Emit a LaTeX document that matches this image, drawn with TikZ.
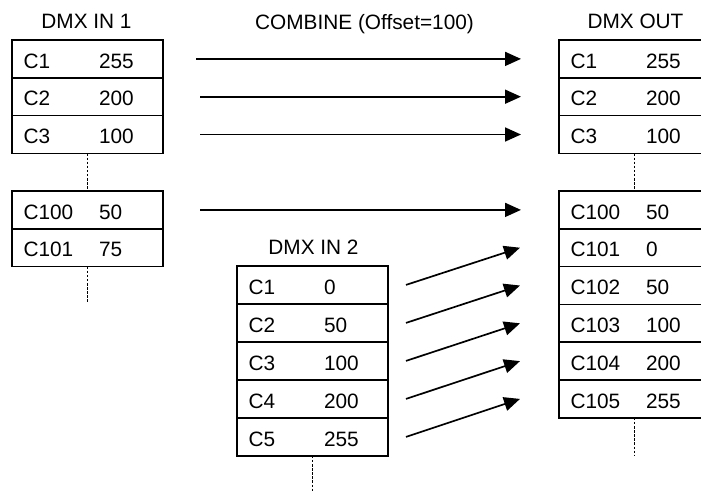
\documentclass[tikz,border=0pt]{standalone}
\usepackage{fontspec}
\setmainfont{Liberation Sans}
\usetikzlibrary{arrows.meta,calc}
\tikzset{
  rowbox/.style={draw=black, line width=1.6pt, minimum width=151pt, minimum height=37.8pt, inner sep=0pt, outer sep=0pt},
  txt/.style={inner sep=0pt, outer sep=0pt, font=\fontsize{20.8}{24}\selectfont},
  ttl/.style={inner sep=0pt, outer sep=0pt, font=\fontsize{20.8}{24}\selectfont, anchor=base},
  arr/.style={line width=1.7pt, -{Triangle[length=16pt,width=14pt]}},
  dots/.style={line width=1.8pt, dash pattern=on 2.5pt off 1.6pt},
}
\newcommand\dmxrow[5]{%
  \node[rowbox, anchor=north west] (#1) at (#2,#3) {};
  \node[txt, anchor=base west] (#1l) at ($(#1.north west)+(11.5,28)$) {#4};
  \node[txt, anchor=base west] (#1v) at ($(#1.north west)+(87,28)$) {#5};
}
\begin{document}
\begin{tikzpicture}[x=1pt,y=-1pt]
\useasboundingbox (0,0) rectangle (701,491);
\clip (0,0) rectangle (701,491);
% titles
\node[ttl] (t1) at (86.5,28) {DMX IN 1};
\node[ttl] (tc) at (364.5,29) {COMBINE (Offset=100)};
\node[ttl] (to) at (635.5,28) {DMX OUT};
\node[ttl] (t2) at (313.5,254) {DMX IN 2};
% DMX IN 1
\dmxrow{a1}{12}{40}{C1}{255}
\dmxrow{a2}{12}{77.8}{C2}{200}
\dmxrow{a3}{12}{115.6}{C3}{100}
\dmxrow{a100}{12}{191}{C100}{50}
\dmxrow{a101}{12}{228.8}{C101}{75}
% DMX OUT
\dmxrow{o1}{559}{40}{C1}{255}
\dmxrow{o2}{559}{77.8}{C2}{200}
\dmxrow{o3}{559}{115.6}{C3}{100}
\dmxrow{o100}{559}{191}{C100}{50}
\dmxrow{o101}{559}{228.8}{C101}{0}
\dmxrow{o102}{559}{266.6}{C102}{50}
\dmxrow{o103}{559}{304.4}{C103}{100}
\dmxrow{o104}{559}{342.2}{C104}{200}
\dmxrow{o105}{559}{380}{C105}{255}
% DMX IN 2
\dmxrow{b1}{237}{266}{C1}{0}
\dmxrow{b2}{237}{304}{C2}{50}
\dmxrow{b3}{237}{342}{C3}{100}
\dmxrow{b4}{237}{380}{C4}{200}
\dmxrow{b5}{237}{418}{C5}{255}
% continuation dots
\coordinate (aend) at (87.5,303);
\coordinate (oend) at (634.5,455);
\coordinate (bend) at (312.5,491);
\draw[dots] (a3.south) -- (a100.north);
\draw[dots] (a101.south) -- (aend);
\draw[dots] (o3.south) -- (o100.north);
\draw[dots] (o105.south) -- (oend);
\draw[dots] (b5.south) -- (bend);
% straight arrows
\draw[arr] ([xshift=33pt]a1.east) -- ([xshift=-38pt]o1.west);
\draw[arr] ([xshift=37pt]a2.east) -- ([xshift=-38pt]o2.west);
\draw[arr] ([xshift=37pt]a3.east) -- ([xshift=-38pt]o3.west);
\draw[arr] ([xshift=37pt]a100.east) -- ([xshift=-38pt]o100.west);
% diagonal arrows
\draw[arr] ([xshift=18pt]b1.east) -- ([xshift=-39pt]o101.west);
\draw[arr] ([xshift=18pt]b2.east) -- ([xshift=-39pt]o102.west);
\draw[arr] ([xshift=18pt]b3.east) -- ([xshift=-39pt]o103.west);
\draw[arr] ([xshift=18pt]b4.east) -- ([xshift=-39pt]o104.west);
\draw[arr] ([xshift=18pt]b5.east) -- ([xshift=-39pt]o105.west);
\end{tikzpicture}
\end{document}
